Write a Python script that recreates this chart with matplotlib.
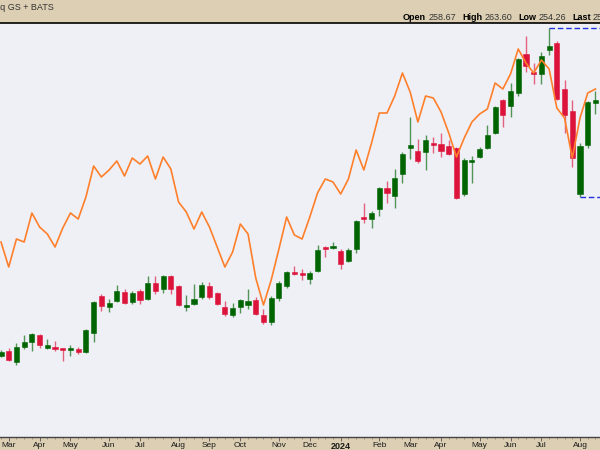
import numpy as np
import pandas as pd
import matplotlib
matplotlib.use("Agg")
import matplotlib.pyplot as plt

# weekly bars, first one is the week of 27 Feb 2023
weeks = pd.date_range("2023-02-27", periods=78, freq="W-MON")

opens = [157.6, 159.6, 155.2, 161.2, 163.2, 166.0, 160.8, 161.2, 160.4, 160.0,
         160.4, 159.2, 166.8, 181.6, 177.2, 179.6, 183.2, 179.2, 183.6, 180.4,
         186.8, 184.4, 189.6, 185.6, 177.2, 178.4, 181.2, 185.6, 182.8, 177.2,
         174.0, 177.2, 178.0, 180.0, 174.0, 171.2, 180.8, 185.6, 191.2, 190.4,
         188.4, 191.6, 200.8, 200.8, 199.6, 195.6, 200.4, 213.2, 212.4, 216.4,
         224.8, 221.6, 230.4, 240.8, 239.6, 239.2, 242.4, 242.4, 241.6, 240.8,
         222.4, 235.2, 237.2, 240.8, 246.8, 260.0, 257.6, 262.8, 278.4, 271.2,
         270.4, 280.0, 282.8, 264.4, 255.6, 222.4, 242.0, 258.67]
highs = [160.0, 160.8, 162.8, 166.0, 166.8, 166.4, 164.4, 163.6, 160.8, 162.0,
         161.2, 168.4, 179.6, 182.4, 180.4, 186.0, 184.4, 183.6, 184.4, 189.6,
         189.6, 190.0, 190.0, 186.0, 182.0, 186.4, 187.2, 187.2, 183.2, 179.6,
         178.8, 180.4, 184.4, 181.2, 176.4, 181.6, 187.6, 191.6, 193.6, 192.4,
         191.6, 202.0, 201.6, 203.2, 200.4, 200.8, 212.0, 218.8, 215.6, 225.2,
         227.6, 232.4, 239.2, 253.2, 244.4, 246.0, 245.2, 246.8, 244.0, 241.2,
         236.8, 237.6, 241.2, 250.0, 257.6, 260.4, 266.8, 276.8, 285.6, 274.8,
         279.2, 289.0, 283.6, 268.0, 260.0, 242.8, 259.6, 263.60]
lows = [157.2, 155.6, 154.0, 160.4, 159.6, 160.8, 160.4, 159.6, 155.6, 157.6,
        158.4, 158.8, 163.2, 175.6, 175.2, 179.2, 178.4, 178.4, 178.4, 180.0,
        182.4, 182.8, 182.4, 177.6, 175.6, 178.0, 180.4, 180.4, 178.0, 173.6,
        173.2, 174.8, 176.4, 174.0, 170.4, 170.0, 179.6, 184.8, 190.0, 188.0,
        186.4, 191.2, 197.2, 200.4, 192.4, 195.2, 198.8, 210.8, 208.8, 213.6,
        218.8, 216.8, 226.8, 236.4, 234.8, 232.0, 238.8, 237.2, 238.0, 220.4,
        221.6, 226.8, 236.8, 240.4, 246.4, 249.2, 253.2, 261.6, 271.2, 266.4,
        266.4, 278.0, 260.0, 246.8, 233.2, 221.2, 240.8, 254.26]
closes = [159.2, 156.0, 161.2, 163.2, 166.4, 162.0, 162.0, 160.4, 160.0, 160.8,
          159.2, 168.0, 179.2, 177.6, 178.8, 183.6, 178.8, 182.8, 180.0, 186.8,
          183.6, 189.6, 184.4, 178.0, 178.0, 180.4, 186.0, 181.2, 178.4, 174.4,
          176.8, 180.0, 179.6, 174.4, 171.2, 180.8, 186.8, 191.2, 190.4, 190.0,
          190.8, 200.0, 200.4, 201.6, 194.4, 200.0, 211.6, 212.4, 214.8, 224.8,
          222.8, 228.8, 238.4, 242.0, 235.6, 244.0, 242.0, 239.6, 238.4, 220.8,
          236.0, 236.0, 240.4, 246.0, 257.2, 254.0, 263.6, 276.4, 273.6, 270.4,
          277.6, 281.6, 260.4, 254.0, 236.8, 241.6, 259.2, 259.85]

# comparison series (overlay), same scale
compare = [203.2, 193.2, 204.4, 203.2, 214.8, 209.2, 206.4, 201.2, 208.8, 214.8,
           212.4, 221.2, 233.6, 229.2, 232.0, 235.6, 229.6, 236.8, 234.4, 237.6,
           228.4, 237.2, 232.4, 219.2, 215.2, 208.4, 215.2, 209.2, 201.2, 193.2,
           199.2, 210.4, 206.4, 188.8, 178.0, 188.0, 200.4, 213.2, 206.0, 204.4,
           213.2, 222.8, 228.4, 227.2, 222.4, 228.4, 240.0, 232.0, 242.8, 254.8,
           254.8, 261.6, 270.8, 263.2, 251.2, 261.6, 260.8, 255.2, 246.8, 237.2,
           244.8, 251.2, 254.4, 256.4, 266.8, 264.4, 270.4, 280.4, 274.8, 270.8,
           276.0, 272.4, 256.8, 252.8, 236.8, 252.8, 262.8, 264.4]

header_labels = ["Open", "High", "Low", "Last"]
header_values = ["258.67", "263.60", "254.26", "259.85"]

TAN = "#dccfb3"
UP = "#006400"
DOWN = "#dc143c"

fig = plt.figure(figsize=(6, 4.5), dpi=100, facecolor=TAN)
ax = fig.add_axes([0, 13 / 450, 1, 414 / 450])
ax.set_facecolor("#eff0f6")

x = np.arange(len(weeks))
o = np.array(opens)
h = np.array(highs)
l = np.array(lows)
c = np.array(closes)
cols = np.where(c >= o, UP, DOWN)

# wicks
ax.vlines(x, l, h, colors=cols, linewidth=1.0, alpha=0.65, zorder=2)
# bodies
bottom = np.minimum(o, c)
height = np.maximum(np.abs(c - o), 0.7)
ax.bar(x, height, bottom=bottom, width=0.66, color=cols, edgecolor=cols,
       linewidth=0.4, zorder=3)

ax.plot(x, compare, color="#ff7f2a", linewidth=1.2, zorder=4)

# dashed range lines: recent high and the low after it
hi = int(np.argmax(h))
lo = hi + int(np.argmin(l[hi:]))
ax.hlines(h[hi], hi, x[-1] + 3, colors="#2233dd", linestyles=(0, (4, 2)), linewidth=1.0, zorder=5)
ax.hlines(l[lo], lo, x[-1] + 3, colors="#2233dd", linestyles=(0, (4, 2)), linewidth=1.0, zorder=5)

ax.set_xlim(-0.13, 77.59)
ax.set_ylim(125.2, 290.8)
ax.set_yticks([])

# month ticks on first week of each month
month_pos, month_lab = [], []
for i, d in enumerate(weeks):
    if i == 0:
        continue
    if d.month != weeks[i - 1].month:
        month_pos.append(i)
        month_lab.append(str(d.year) if d.month == 1 else d.strftime("%b"))
ax.set_xticks(month_pos)
ax.set_xticklabels(month_lab, fontsize=6, family="Liberation Sans", color="#1a1a1a")
for t in ax.get_xticklabels():
    if t.get_text().isdigit():
        t.set_fontweight("bold")
        t.set_fontsize(6.5)
ax.set_xticks(x, minor=True)
ax.tick_params(axis="x", which="major", length=3, width=0.6, color="#555555", pad=0.8, direction="out")
ax.tick_params(axis="x", which="minor", length=1.5, width=0.5, color="#777777", direction="out")

for s in ["left", "right"]:
    ax.spines[s].set_visible(False)
ax.spines["top"].set_color("black")
ax.spines["top"].set_linewidth(1.2)
ax.spines["bottom"].set_color("#444444")
ax.spines["bottom"].set_linewidth(1.0)

# header
fig.text(54 / 600, 1 - 8 / 450, "Nasdaq GS + BATS", ha="right", va="center",
         fontsize=6.5, family="Liberation Sans", color="#333333")
prev = fig.text(403 / 600, 1 - 18 / 450, header_labels[0], ha="left", va="center",
                fontsize=6.5, family="Liberation Sans", fontweight="bold", color="black")
for k, (lab, val) in enumerate(zip(header_labels, header_values)):
    if k > 0:
        prev = ax.annotate(lab, xy=(1, 0.5), xycoords=last_val, xytext=(4.5, 0),
                           textcoords="offset points", ha="left", va="center",
                           fontsize=6.5, family="Liberation Sans", fontweight="bold",
                           color="black", annotation_clip=False)
    last_val = ax.annotate(val, xy=(1, 0.5), xycoords=prev, xytext=(1.5, 0),
                           textcoords="offset points", ha="left", va="center",
                           fontsize=6.5, family="Liberation Sans", color="#333333",
                           annotation_clip=False)

fig.savefig("out.png", dpi=100, facecolor=TAN)
